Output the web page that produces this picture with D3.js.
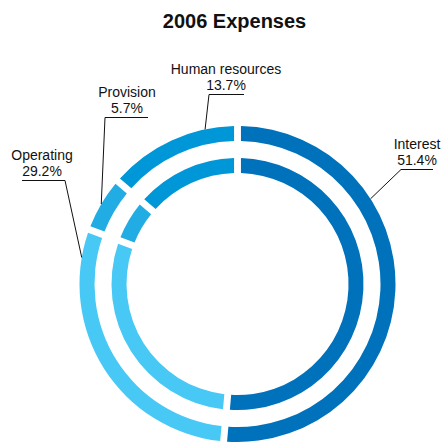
<!DOCTYPE html>
<html>
<head>
<meta charset="utf-8">
<script src="https://cdn.jsdelivr.net/npm/d3@7"></script>
<style>
  html, body { margin: 0; padding: 0; background: #fff; }
  svg { display: block; }
  text { font-family: Arial, "Liberation Sans", Helvetica, sans-serif; fill: #111; }
</style>
</head>
<body>
<svg id="chart" width="446" height="444"></svg>
<script>
// Expense categories and their share of total 2006 expenses (%)
const categories = ["Interest", "Operating", "Provision", "Human resources"];
const shares = [51.4, 29.2, 5.7, 13.7];
const sliceColors = ["#0072bc", "#47c8f5", "#22ace4", "#0097d8"];

// Label layout: text centre, baseline of the name line, underline span,
// which underline end the leader leaves from, and where along the slice it points
const labelLayout = [
  { x: 417, y: 149, u1: 401, u2: 433, from: "left",  at: 0.31 },
  { x: 42,  y: 160, u1: 22,  u2: 65,  from: "right", at: 0.90 },
  { x: 127, y: 97,  u1: 105, u2: 148, from: "left",  at: 0.50 },
  { x: 226, y: 74,  u1: 209, u2: 244, from: "left",  at: 0.76 }
];

const width = 446, height = 444;
const cx = 237.5, cy = 284;
const rings = [
  { inner: 143, outer: 158 },
  { inner: 111, outer: 126 }
];

const data = categories.map((c, i) => ({ name: c, value: shares[i], color: sliceColors[i], layout: labelLayout[i] }));

const svg = d3.select("#chart");

svg.append("text")
  .attr("x", 234.5)
  .attr("y", 27.5)
  .attr("text-anchor", "middle")
  .style("font-size", "20px")
  .style("font-weight", "bold")
  .text("2006 Expenses");

const pie = d3.pie()
  .sort(null)
  .value(d => d.value)
  .startAngle(0)
  .endAngle(2 * Math.PI);

const slices = pie(data);

const g = svg.append("g").attr("transform", `translate(${cx},${cy})`);

rings.forEach(r => {
  const arc = d3.arc()
    .innerRadius(r.inner)
    .outerRadius(r.outer)
    .padAngle(0.046)
    .padRadius(150);
  g.append("g")
    .selectAll("path")
    .data(slices)
    .join("path")
    .attr("d", arc)
    .attr("fill", d => d.data.color);
});

// Labels with underlined percentage and leader line to the outer ring
const fmt = d3.format(".1f");
const outerR = rings[0].outer;
const labels = svg.append("g");

slices.forEach(s => {
  const L = s.data.layout;
  labels.append("text")
    .attr("x", L.x).attr("y", L.y)
    .attr("text-anchor", "middle")
    .style("font-size", "14px")
    .text(s.data.name);
  labels.append("text")
    .attr("x", L.x).attr("y", L.y + 16)
    .attr("text-anchor", "middle")
    .style("font-size", "14px")
    .text(fmt(s.data.value) + "%");

  const uy = L.y + 20.5;
  const a = s.startAngle + (s.endAngle - s.startAngle) * L.at;
  const tx = cx + outerR * Math.sin(a);
  const ty = cy - outerR * Math.cos(a);
  const sx = L.from === "left" ? L.u1 : L.u2;
  const ex = L.from === "left" ? L.u2 : L.u1;

  labels.append("path")
    .attr("d", d3.line()([[ex, uy], [sx, uy], [tx, ty]]))
    .attr("fill", "none")
    .attr("stroke", "#111")
    .attr("stroke-width", 1);
});
</script>
</body>
</html>
